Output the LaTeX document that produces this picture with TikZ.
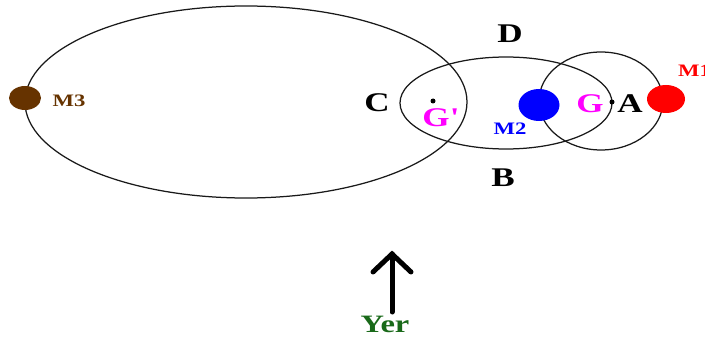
\documentclass[tikz,border=0pt]{standalone}
\usepackage{fontspec}
\setmainfont{Liberation Serif}
\definecolor{mbrown}{RGB}{102,51,0}
\definecolor{mgreen}{RGB}{25,105,25}
\definecolor{mmag}{RGB}{255,0,255}
\definecolor{mred}{RGB}{255,0,0}
\definecolor{mblue}{RGB}{0,0,255}
\tikzset{
  orbit/.style={draw=black!90, line width=1.25pt},
  big/.style={font=\fontsize{27}{27}\selectfont\bfseries, inner sep=0pt},
  small/.style={font=\fontsize{17.5}{17.5}\selectfont\bfseries, inner sep=0pt},
  yer/.style={font=\fontsize{25}{25}\selectfont\bfseries, inner sep=0pt, text=mgreen},
  pt/.style={circle, fill=black, inner sep=0pt, minimum size=5pt},
}
\newcommand{\wid}[1]{\scalebox{1.3}[1]{#1}}
\begin{document}
\begin{tikzpicture}[x=1pt,y=-1pt]
\useasboundingbox (0,0) rectangle (705,342);
\clip (0,0) rectangle (705,342);
% orbits
\draw[orbit] (246,102) ellipse [x radius=221, y radius=96];
\draw[orbit] (506,103) ellipse [x radius=106, y radius=46];
\draw[orbit] (601,101) ellipse [x radius=62, y radius=49];
% masses
\fill[mbrown] (25,98) ellipse [x radius=16, y radius=12];
\fill[mred] (666,99) ellipse [x radius=19, y radius=14];
\fill[mblue] (539,105) ellipse [x radius=20.5, y radius=16];
\node[pt] (gp) at (433,101) {};
\node[pt] (a) at (612,102) {};
% labels
\node[small, text=mbrown] (m3) at (69,101) {\wid{M3}};
\node[small, text=mred, anchor=west] (m1) at (678,70.5) {\wid{M1}};
\node[small, text=mblue] (m2) at (510,128.5) {\wid{M2}};
\node[big] (C) at (377,103) {\wid{C}};
\node[big] (D) at (510,34) {\wid{D}};
\node[big] (B) at (503,178) {\wid{B}};
\node[big] (A) at (630,104) {\wid{A}};
\node[big, text=mmag] (G) at (590,104) {\wid{G}};
\node[big, text=mmag] (Gp) at (441,118) {\wid{G\textquotesingle}};
% arrow
\coordinate (tail) at (392,312);
\coordinate (tip) at (392,254);
\coordinate (wl) at (373,272);
\coordinate (wr) at (411,272);
\draw[line width=5pt, line cap=round] (tail) -- (tip);
\draw[line width=5pt, line cap=round, line join=miter] (wl) -- (tip) -- (wr);
\node[yer] (yer) at (385,324) {\wid{Yer}};
\end{tikzpicture}
\end{document}
